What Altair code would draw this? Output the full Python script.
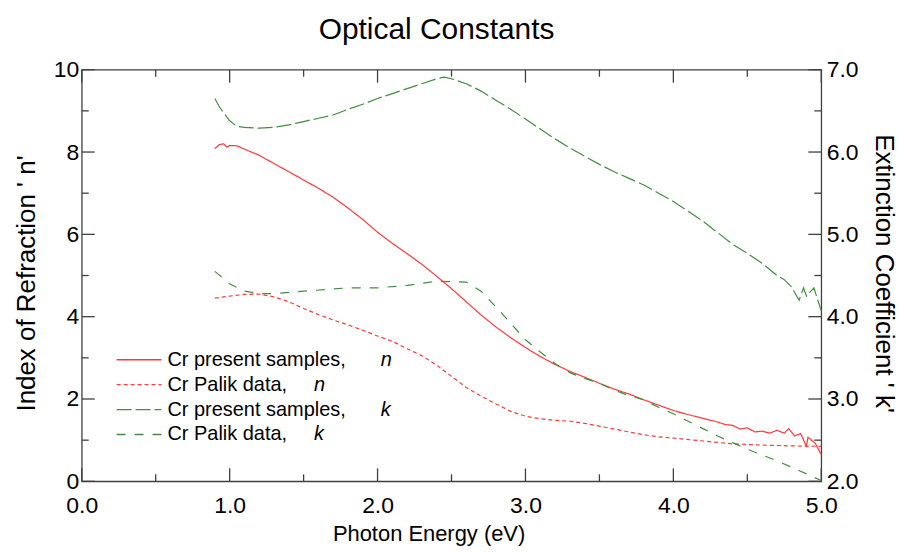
import altair as alt
import pandas as pd

# ---------------- data ----------------
e_present_n = [0.90, 0.93, 0.96, 0.98, 1.00, 1.05, 1.10, 1.20, 1.30, 1.40, 1.50, 1.60, 1.70,
               1.80, 1.90, 2.00, 2.10, 2.20, 2.30, 2.40, 2.50, 2.60, 2.70, 2.80, 2.90, 3.00,
               3.10, 3.20, 3.30, 3.40, 3.50, 3.60, 3.70, 3.80, 3.90, 4.00, 4.10, 4.20, 4.30,
               4.35, 4.40, 4.45, 4.50, 4.55, 4.60, 4.65, 4.70, 4.75, 4.78, 4.82, 4.86, 4.90,
               4.91, 4.96, 5.00]
n_present = [8.08, 8.18, 8.20, 8.12, 8.16, 8.15, 8.07, 7.92, 7.72, 7.52, 7.32, 7.12, 6.90,
             6.64, 6.36, 6.05, 5.78, 5.53, 5.27, 4.98, 4.68, 4.36, 4.04, 3.75, 3.49, 3.25,
             3.03, 2.84, 2.67, 2.53, 2.38, 2.24, 2.12, 1.98, 1.85, 1.72, 1.62, 1.53, 1.44,
             1.38, 1.36, 1.27, 1.30, 1.20, 1.22, 1.17, 1.24, 1.17, 1.28, 1.10, 1.16, 0.85,
             1.07, 0.92, 0.65]

e_palik_n = [0.90, 1.00, 1.10, 1.20, 1.30, 1.40, 1.50, 1.60, 1.70, 1.80, 1.90, 2.00, 2.10,
             2.20, 2.30, 2.40, 2.50, 2.60, 2.70, 2.80, 2.90, 3.00, 3.10, 3.20, 3.30, 3.40,
             3.50, 3.60, 3.70, 3.80, 3.90, 4.00, 4.20, 4.40, 4.60, 4.80, 5.00]
n_palik = [4.45, 4.50, 4.54, 4.55, 4.48, 4.36, 4.20, 4.05, 3.92, 3.80, 3.67, 3.53, 3.40,
           3.22, 3.05, 2.82, 2.55, 2.28, 2.07, 1.88, 1.70, 1.58, 1.52, 1.48, 1.46, 1.41,
           1.34, 1.27, 1.20, 1.13, 1.08, 1.05, 0.98, 0.91, 0.88, 0.86, 0.85]

e_present_k = [0.90, 0.93, 0.97, 1.00, 1.05, 1.10, 1.20, 1.30, 1.40, 1.50, 1.60, 1.70, 1.80,
               1.90, 2.00, 2.10, 2.20, 2.30, 2.40, 2.45, 2.50, 2.60, 2.70, 2.80, 2.90, 3.00,
               3.10, 3.20, 3.30, 3.40, 3.50, 3.60, 3.70, 3.80, 3.90, 4.00, 4.10, 4.20, 4.30,
               4.40, 4.50, 4.60, 4.70, 4.75, 4.80, 4.85, 4.88, 4.90, 4.95, 5.00]
k_present = [6.65, 6.55, 6.45, 6.38, 6.31, 6.30, 6.29, 6.30, 6.33, 6.37, 6.41, 6.45, 6.52,
             6.58, 6.65, 6.71, 6.77, 6.83, 6.89, 6.91, 6.89, 6.83, 6.74, 6.63, 6.52, 6.40,
             6.28, 6.16, 6.05, 5.95, 5.85, 5.76, 5.68, 5.60, 5.50, 5.40, 5.28, 5.16, 5.02,
             4.88, 4.77, 4.65, 4.50, 4.45, 4.36, 4.20, 4.35, 4.25, 4.35, 4.07]

e_palik_k = [0.90, 1.00, 1.10, 1.20, 1.30, 1.50, 1.80, 2.00, 2.20, 2.40, 2.60, 2.70, 2.80,
             2.90, 3.00, 3.10, 3.20, 3.30, 3.40, 3.50, 3.60, 3.70, 3.80, 3.90, 4.00, 4.10,
             4.20, 4.30, 4.40, 4.50, 4.60, 4.70, 4.80, 4.90, 5.00]
k_palik = [4.55, 4.40, 4.31, 4.28, 4.28, 4.31, 4.35, 4.35, 4.38, 4.43, 4.42, 4.31, 4.12,
           3.92, 3.72, 3.57, 3.43, 3.32, 3.25, 3.19, 3.11, 3.04, 2.99, 2.90, 2.82, 2.73,
           2.64, 2.55, 2.47, 2.39, 2.32, 2.25, 2.17, 2.09, 2.01]

legend_labels = ["Cr present samples,", "Cr Palik data,", "Cr present samples,", "Cr Palik data,"]
legend_letters = ["n", "n", "k", "k"]

x_label_values = [0, 1, 2, 3, 4, 5]
n_label_values = [0, 2, 4, 6, 8, 10]
k_label_values = [2, 3, 4, 5, 6, 7]
x_tick_values = [0, 0.5, 1, 1.5, 2, 2.5, 3, 3.5, 4, 4.5, 5]
n_tick_values = [0, 1, 2, 3, 4, 5, 6, 7, 8, 9, 10]

# ---------------- styling / layout ----------------
RED = "#ff3a3a"
GREEN = "#3f8f3f"
AXIS_C = "#404040"
FONT = "Liberation Sans"
W, H = 742, 413
X0, X1 = 0.0, 5.0
N0, N1 = 0.0, 10.0
K0, K1 = 2.0, 7.0

def px_x(px):
    return X0 + px / W * (X1 - X0)

def px_n(py):
    return N1 - py / H * (N1 - N0)

xs = alt.Scale(domain=[X0, X1], nice=False, zero=False)
ns = alt.Scale(domain=[N0, N1], nice=False, zero=False)
ks = alt.Scale(domain=[K0, K1], nice=False, zero=False)

common_axis = dict(ticks=False, domain=False, grid=False, labelFont=FONT, labelColor="black",
                   titleColor="black", titleFontWeight="normal", labelOverlap=False,
                   labelFlush=False)

x_axis = alt.Axis(title="Photon Energy (eV)", values=x_label_values, format=".1f",
                  labelFontSize=23, labelPadding=13, titleFontSize=22, titleFont=FONT,
                  titlePadding=6, titleX=348, titleAlign="center", **common_axis)
n_axis = alt.Axis(title="Index of Refraction ' n'", values=n_label_values, format="d",
                  labelFontSize=23, labelPadding=3, titleFontSize=26, titleFont=FONT,
                  titlePadding=14, titleY=214, titleAlign="center", orient="left",
                  **common_axis)
k_axis = alt.Axis(title="Extinction Coefficient ' k'", values=k_label_values, format=".1f",
                  labelFontSize=23, labelPadding=5, titleFontSize=26, titleFont=FONT,
                  titlePadding=12, titleY=204, titleAlign="center", orient="right",
                  **common_axis)

def line_layer(e, v, yname, scale, axis, color, dash):
    df = pd.DataFrame({"e": e, yname: v})
    return alt.Chart(df).mark_line(color=color, strokeDash=dash, strokeWidth=1.2).encode(
        x=alt.X("e:Q", scale=xs, axis=x_axis),
        y=alt.Y(f"{yname}:Q", scale=scale, axis=axis),
    )

l_pn = line_layer(e_present_n, n_present, "n", ns, n_axis, RED, [1, 0])
l_qn = line_layer(e_palik_n, n_palik, "n", ns, n_axis, RED, [4, 3])
l_pk = line_layer(e_present_k, k_present, "k", ks, k_axis, GREEN, [15, 4])
l_qk = line_layer(e_palik_k, k_palik, "k", ks, k_axis, GREEN, [9, 9])

# inside ticks on all four sides (drawn as rules)
MAJ, MIN = 13, 7
rows = []
for t in x_tick_values:
    L = MAJ if float(t).is_integer() else MIN
    dy = L / H * (N1 - N0)
    rows.append({"x": t, "x2": t, "y": N0, "y2": N0 + dy})
    rows.append({"x": t, "x2": t, "y": N1, "y2": N1 - dy})
for t in n_tick_values:
    L = MAJ if t % 2 == 0 else MIN
    dx = L / W * (X1 - X0)
    rows.append({"x": X0, "x2": X0 + dx, "y": t, "y2": t})
    rows.append({"x": X1, "x2": X1 - dx, "y": t, "y2": t})
ticks = alt.Chart(pd.DataFrame(rows)).mark_rule(color=AXIS_C, strokeWidth=1.3).encode(
    x=alt.X("x:Q", scale=xs, axis=x_axis), x2="x2:Q",
    y=alt.Y("y:Q", scale=ns, axis=n_axis), y2="y2:Q",
)

# legend (placed in data units derived from pixel layout)
row_py = [291, 316, 341, 366]
styles = [(RED, [1, 0]), (RED, [4, 3]), (GREEN, [15, 4]), (GREEN, [9, 9])]
letter_px = [300, 233, 300, 233]
leg_layers = []
for i in range(4):
    yv = px_n(row_py[i])
    seg = pd.DataFrame({"x": [px_x(35)], "x2": [px_x(80)], "y": [yv],
                        "label": [legend_labels[i]], "letter": [legend_letters[i]],
                        "lx": [px_x(letter_px[i])], "tx": [px_x(86)]})
    c, d = styles[i]
    leg_layers.append(alt.Chart(seg).mark_rule(color=c, strokeDash=d, strokeWidth=1.3).encode(
        x=alt.X("x:Q", scale=xs, axis=x_axis), x2="x2:Q",
        y=alt.Y("y:Q", scale=ns, axis=n_axis)))
    leg_layers.append(alt.Chart(seg).mark_text(align="left", baseline="middle", font=FONT,
                                               fontSize=20, color="black").encode(
        x=alt.X("tx:Q", scale=xs, axis=x_axis), y=alt.Y("y:Q", scale=ns, axis=n_axis),
        text="label:N"))
    leg_layers.append(alt.Chart(seg).mark_text(align="left", baseline="middle", font=FONT,
                                               fontSize=20, fontStyle="italic",
                                               color="black").encode(
        x=alt.X("lx:Q", scale=xs, axis=x_axis), y=alt.Y("y:Q", scale=ns, axis=n_axis),
        text="letter:N"))

n_layer = alt.layer(ticks, l_pn, l_qn, *leg_layers)
k_layer = alt.layer(l_pk, l_qk)

chart = alt.layer(n_layer, k_layer).resolve_scale(y="independent").properties(
    width=W, height=H,
    title=alt.TitleParams("Optical Constants", font=FONT, fontSize=30, fontWeight="normal",
                          color="black", anchor="middle", offset=14, dx=-15),
    padding={"left": 5, "top": 6, "right": 3, "bottom": 7},
    background="white",
).configure_view(stroke=AXIS_C, strokeWidth=1.3)

chart.save("out.html", embed_options={"renderer": "svg", "actions": False})
